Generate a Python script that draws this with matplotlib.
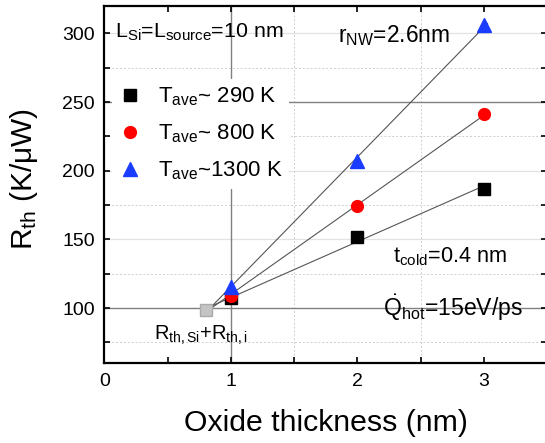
import numpy as np
import matplotlib
matplotlib.use("Agg")
import matplotlib.pyplot as plt

# ---------- Fonts ----------
plt.rcParams['font.family'] = ['Liberation Sans', 'DejaVu Sans']
plt.rcParams['mathtext.fontset'] = 'custom'
plt.rcParams['mathtext.rm'] = 'Liberation Sans'
plt.rcParams['mathtext.it'] = 'Liberation Sans:italic'
plt.rcParams['mathtext.bf'] = 'Liberation Sans:bold'

# ---------- Data ----------
thickness = [1, 2, 3]
r_290 = [107, 152, 187]
r_800 = [109, 174, 241]
r_1300 = [115, 207, 306]
x_base = 0.8          # Rth,Si + Rth,i point
r_base = 98.5

labels = [r'T$_{\rm ave}$~ 290 K', r'T$_{\rm ave}$~ 800 K', r'T$_{\rm ave}$~1300 K']
colors = ['black', '#ff0000', '#1a3cff']
markers = ['s', 'o', '^']
msizes = [8, 8.5, 9.5]
series = [r_290, r_800, r_1300]

fig = plt.figure(figsize=(5.45, 4.43), dpi=100)
ax = fig.add_axes([0.1917, 0.1806, 0.8119, 0.806])
ax.set_xlim(0, 3.5)
ax.set_ylim(60, 320)

# ---------- Grid ----------
for yv in [150, 200, 300]:
    ax.axhline(yv, color='#e2e2e2', lw=0.9, zorder=0)
for yv in [75, 125, 175, 225, 275]:
    ax.axhline(yv, color='#cfcfcf', lw=0.7, ls=(0, (2, 2)), zorder=0)
for xv in [1.5, 2.5]:
    ax.axvline(xv, color='#cfcfcf', lw=0.7, ls=(0, (2, 2)), zorder=0)
ax.axhline(100, color='#808080', lw=1.0, zorder=1)
ax.axhline(250, color='#808080', lw=1.0, zorder=1)
ax.axvline(1, color='#808080', lw=1.0, zorder=1)

# ---------- Fit lines through the base point ----------
for ys in series:
    xs = np.array([x_base] + thickness)
    yy = np.array([r_base] + ys)
    k, b = np.polyfit(xs, yy, 1)
    xl = np.array([x_base + 0.02, thickness[-1] + 0.03])
    ax.plot(xl, k * xl + b, color='#555555', lw=0.8, zorder=2)

ax.plot([x_base], [r_base], 's', color='#c4c4c4', mec='#aaaaaa', ms=9, zorder=3)

handles = []
for ys, c, m, ms, lab in zip(series, colors, markers, msizes, labels):
    h, = ax.plot(thickness, ys, m, color=c, ms=ms, mec=c, ls='none', label=lab, zorder=4)
    handles.append(h)

leg = ax.legend(handles=handles, loc='upper left', bbox_to_anchor=(0.018, 0.795),
                fontsize=16, frameon=True, facecolor='white', edgecolor='none',
                framealpha=1.0, fancybox=False, handletextpad=0.75, labelspacing=0.64,
                handlelength=1.0, borderpad=0.3, borderaxespad=0.0)

# ---------- Annotations ----------
ax.text(0.083, 296.7, r'L$_{\rm Si}$=L$_{\rm source}$=10 nm', fontsize=15.4, va='baseline')
ax.text(1.85, 293.8, r'r$_{\rm NW}$=2.6nm', fontsize=16.4, va='baseline')
ax.text(2.285, 133.6, r't$_{\rm cold}$=0.4 nm', fontsize=15.6, va='baseline')
ax.text(2.206, 94.2, r'$\dot{\rm Q}_{\rm hot}$=15eV/ps', fontsize=16.6, va='baseline')
ax.text(0.39, 76.8, r'R$_{\rm th,Si}$+R$_{\rm th,i}$', fontsize=14.4, va='baseline')

# ---------- Axes styling ----------
ax.set_xticks([0, 1, 2, 3])
ax.set_xticks([0.5, 1.5, 2.5], minor=True)
ax.set_yticks([100, 150, 200, 250, 300])
ax.set_yticks([75, 125, 175, 225, 275], minor=True)
ax.tick_params(which='both', direction='in', top=True, right=True, labelsize=14,
               length=4.5, width=1.2, pad=7)
for s in ax.spines.values():
    s.set_linewidth(1.6)

ax.set_xlabel('Oxide thickness (nm)', fontsize=21.8, labelpad=14)
ax.set_ylabel('R$_{\\rm th}$ (K/\u03bcW)', fontsize=21.5)
ax.yaxis.set_label_coords(-0.146, 0.515)

fig.savefig('out.png', dpi=100)
